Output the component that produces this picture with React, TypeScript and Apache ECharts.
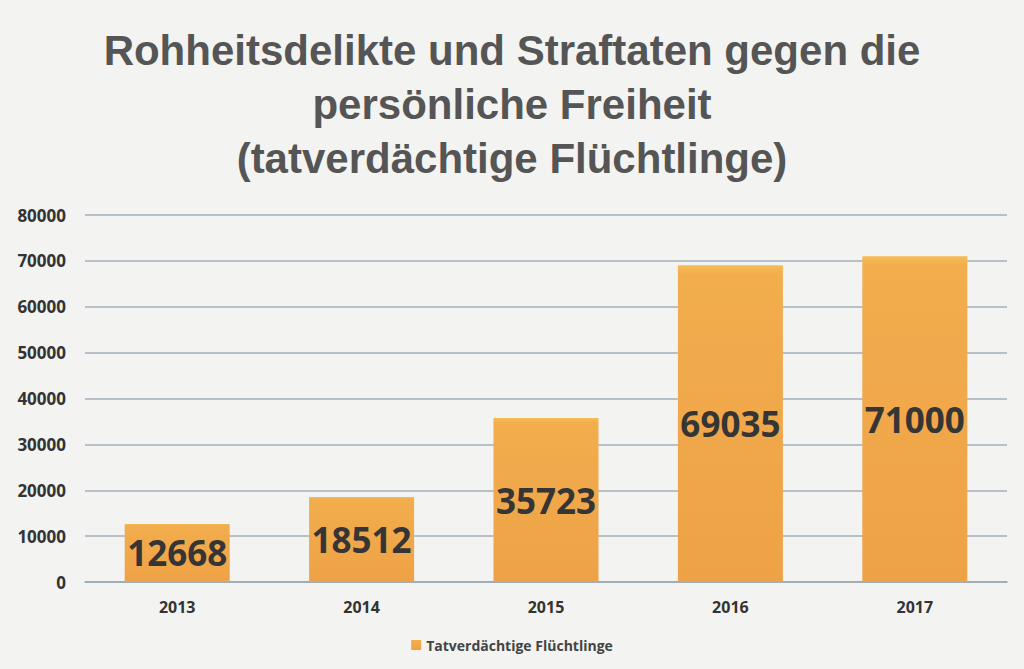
import React, { useEffect, useRef } from "react";
import * as echarts from "echarts";

const categories = ["2013", "2014", "2015", "2016", "2017"];
const values = [12668, 18512, 35723, 69035, 71000];
const seriesName = "Tatverdächtige Flüchtlinge";
const titleText = "Rohheitsdelikte und Straftaten gegen die\npersönliche Freiheit\n(tatverdächtige Flüchtlinge)";

export default function App() {
  const ref = useRef<HTMLDivElement>(null);
  useEffect(() => {
    document.body.style.margin = "0";
    document.body.style.background = "#f3f3f1";
    const chart = echarts.init(ref.current!, null, { renderer: "svg" });
    chart.setOption({
      animation: false,
      backgroundColor: "#f3f3f1",
      title: {
        text: titleText,
        left: "center",
        top: 18,
        textStyle: {
          fontFamily: "Liberation Sans",
          fontWeight: "bold",
          fontSize: 42,
          lineHeight: 54,
          color: "#555555",
        },
      },
      legend: {
        bottom: 12,
        left: "center",
        itemWidth: 10,
        itemHeight: 10,
        icon: "rect",
        itemGap: 4,
        textStyle: {
          fontFamily: "Open Sans",
          fontWeight: "bold",
          fontSize: 14,
          color: "#444",
        },
        data: [seriesName],
      },
      grid: { left: 85, right: 17, top: 215, bottom: 87 },
      xAxis: {
        type: "category",
        data: categories,
        axisTick: { show: false },
        axisLine: { lineStyle: { color: "#9aa6b0", width: 1.5 } },
        axisLabel: {
          margin: 17,
          fontFamily: "Open Sans",
          fontWeight: "bold",
          fontSize: 16,
          color: "#333",
        },
      },
      yAxis: {
        type: "value",
        min: 0,
        max: 80000,
        interval: 10000,
        axisLabel: {
          margin: 19,
          fontFamily: "Open Sans",
          fontWeight: "bold",
          fontSize: 17,
          color: "#333",
          formatter: (v: number) => String(v),
        },
        splitLine: { lineStyle: { color: "#a3afb8", width: 1.5 } },
      },
      series: [
        {
          name: seriesName,
          type: "bar",
          data: values,
          barWidth: 105,
          itemStyle: {
            color: new echarts.graphic.LinearGradient(0, 0, 0, 1, [
              { offset: 0, color: "#f5bc55" },
              { offset: 0.03, color: "#f2ad4d" },
              { offset: 1, color: "#eea246" },
            ]),
          },
          label: {
            show: true,
            position: "inside",
            fontFamily: "Open Sans",
            fontWeight: "bold",
            fontSize: 35,
            color: "#353535",
          },
        },
      ],
    });
    return () => chart.dispose();
  }, []);
  return <div ref={ref} style={{ width: 1024, height: 669 }} />;
}
